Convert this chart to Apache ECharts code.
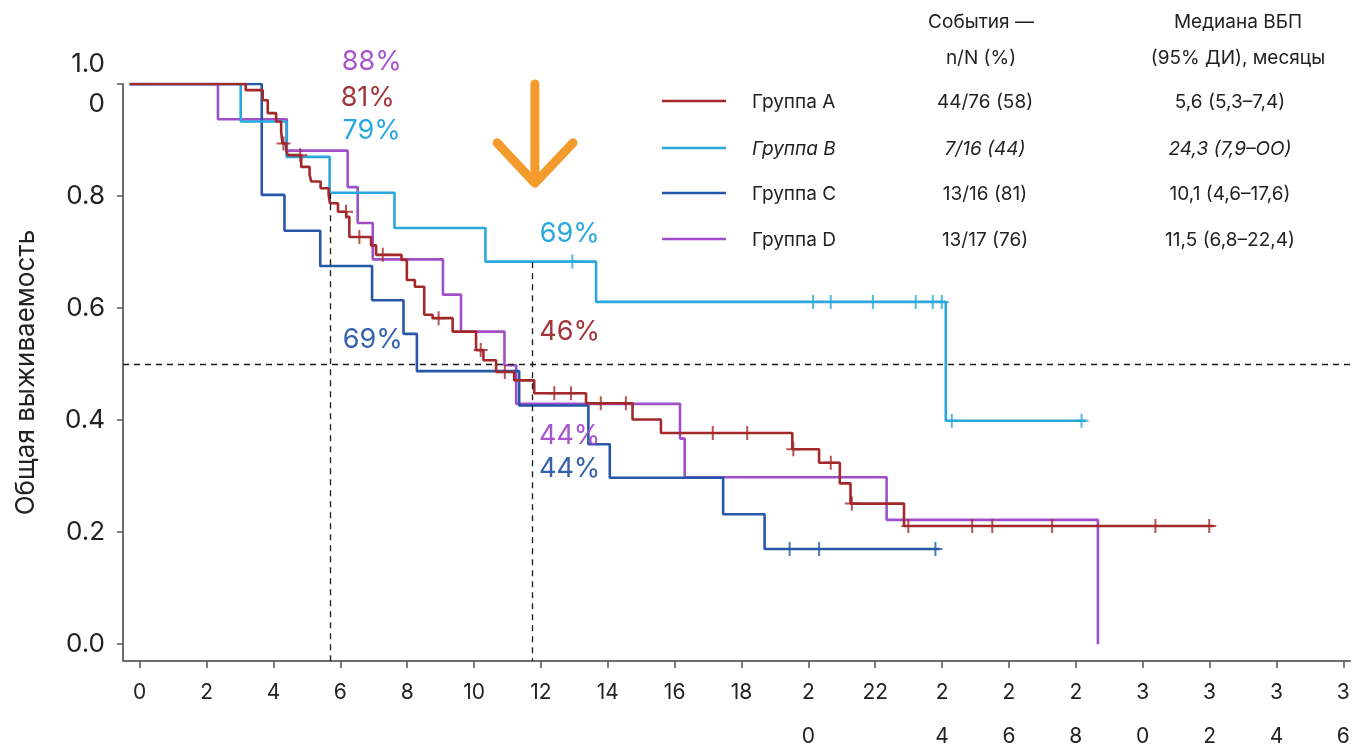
<!DOCTYPE html>
<html>
<head>
<meta charset="utf-8">
<script src="https://cdn.jsdelivr.net/npm/echarts@6/dist/echarts.min.js"></script>
<style>
  html, body { margin: 0; padding: 0; background: #fff; }
  #chart-main { width: 1358px; height: 747px; }
</style>
</head>
<body>
<div id="chart-main"></div>
<script>
// --- data (months, survival fraction) ---
const groupNames = ['Группа A', 'Группа B', 'Группа C', 'Группа D'];
const eventsText = ['44/76 (58)', '7/16 (44)', '13/16 (81)', '13/17 (76)'];
const medianText = ['5,6 (5,3–7,4)', '24,3 (7,9–OO)', '10,1 (4,6–17,6)', '11,5 (6,8–22,4)'];

const aTimes = [-0.3, 3.17, 3.68, 3.83, 4.08, 4.23, 4.27, 4.38, 4.43, 4.83, 5.08, 5.13, 5.41, 5.65, 5.69, 5.93, 6.18, 6.27, 6.92, 7.07, 7.83, 7.99, 8.23, 8.51, 8.76, 9.36, 10.06, 10.28, 10.66, 11.2, 11.8, 13.35, 14.74, 15.59, 19.52, 20.32, 20.94, 21.26, 22.86];
const aSurv = [1.0, 0.989, 0.971, 0.948, 0.933, 0.915, 0.894, 0.882, 0.873, 0.852, 0.838, 0.826, 0.814, 0.802, 0.787, 0.772, 0.763, 0.727, 0.712, 0.695, 0.686, 0.65, 0.638, 0.588, 0.582, 0.558, 0.525, 0.507, 0.486, 0.471, 0.448, 0.43, 0.401, 0.377, 0.348, 0.324, 0.287, 0.251, 0.211];
const aEnd = 32.12;
const aCensor = [4.3, 4.8, 6.17, 6.57, 7.27, 8.94, 10.2, 10.92, 12.4, 12.9, 13.79, 14.54, 17.14, 18.17, 19.55, 20.67, 21.3, 22.99, 24.9, 25.5, 27.29, 30.38, 31.99];

const bTimes = [-0.3, 3.02, 4.39, 5.68, 7.62, 10.34, 13.65, 24.11];
const bSurv = [1.0, 0.933, 0.87, 0.806, 0.743, 0.683, 0.611, 0.399];
const bEnd = 28.3;
const bCensor = [12.94, 20.14, 20.67, 21.93, 23.21, 23.72, 23.99, 24.29, 28.17];

const cTimes = [-0.3, 3.65, 4.33, 5.4, 6.95, 7.89, 8.29, 11.35, 13.42, 14.06, 17.45, 18.69];
const cSurv = [1.0, 0.802, 0.738, 0.675, 0.614, 0.554, 0.4875, 0.426, 0.357, 0.297, 0.232, 0.17];
const cEnd = 23.93;
const cCensor = [19.44, 20.32, 23.8];

const dTimes = [-0.3, 2.34, 4.4, 6.22, 6.52, 6.97, 9.07, 9.61, 10.91, 11.26, 16.16, 16.3, 22.34, 28.66];
const dSurv = [1.0, 0.937, 0.881, 0.816, 0.752, 0.687, 0.624, 0.558, 0.498, 0.429, 0.367, 0.298, 0.222, 0.0];
const dEnd = null;
const dCensor = [];

const xTicks = [0, 2, 4, 6, 8, 10, 12, 14, 16, 18, 20, 22, 24, 26, 28, 30, 32, 34, 36];
const xTickLabels = ['0', '2', '4', '6', '8', '10', '12', '14', '16', '18', '2\n0', '22', '2\n4', '2\n6', '2\n8', '3\n0', '3\n2', '3\n4', '3\n6'];
const yTicks = [0, 0.2, 0.4, 0.6, 0.8, 1.0];
const yTickLabels = ['0.0', '0.2', '0.4', '0.6', '0.8', '1.0\n0'];

// reference lines: median level and the two landmark times
const medianLevel = 0.5;
const landmarkT = [5.71, 11.74];
const landmarkTop = [0.805, 0.682];

// percentage callouts (anchor in months / survival)
const pctText = ['88%', '81%', '79%', '69%', '69%', '46%', '44%', '44%'];
const pctT = [6.94, 6.82, 6.94, 12.86, 6.97, 12.86, 12.86, 12.86];
const pctS = [1.039, 0.975, 0.916, 0.732, 0.543, 0.557, 0.371, 0.3125];
const pctGroup = [3, 0, 1, 1, 2, 0, 3, 2];

// --- styles ---
const palette = ['#a2282a', '#2aa7df', '#2657a8', '#a04fc9'];
const labelPalette = ['#a2353a', '#2aa7df', '#3462ab', '#a854cf'];
const fontFamily = 'Inter, Roboto, "Liberation Sans", sans-serif';
const textColor = '#222';
const plusSymbol = 'path://M6,0 H8 V6 H14 V8 H8 V14 H6 V8 H0 V6 H6 Z';

const chartDom = document.getElementById('chart-main');
const myChart = echarts.init(chartDom);

function stepData(times, surv, end) {
    const pts = times.map((t, i) => [t, surv[i]]);
    if (end != null) pts.push([end, surv[surv.length - 1]]);
    return pts;
}

function survAt(times, surv, t) {
    let s = surv[0];
    for (let i = 0; i < times.length; i++) {
        if (times[i] <= t) s = surv[i];
    }
    return s;
}

const groups = [
    { t: aTimes, s: aSurv, end: aEnd, cens: aCensor },
    { t: bTimes, s: bSurv, end: bEnd, cens: bCensor },
    { t: cTimes, s: cSurv, end: cEnd, cens: cCensor },
    { t: dTimes, s: dSurv, end: dEnd, cens: dCensor }
];

const series = [];
// draw order: purple, blue, cyan, red on top
[3, 2, 1, 0].forEach(gi => {
    const g = groups[gi];
    series.push({
        name: groupNames[gi],
        type: 'line',
        step: 'end',
        data: stepData(g.t, g.s, g.end),
        showSymbol: false,
        silent: true,
        lineStyle: { color: palette[gi], width: 2.6 },
        z: 3
    });
    if (g.cens.length) {
        series.push({
            name: groupNames[gi] + ' censored',
            type: 'scatter',
            data: g.cens.map(c => [c, survAt(g.t, g.s, c)]),
            symbol: plusSymbol,
            symbolSize: 14,
            silent: true,
            itemStyle: { color: palette[gi] },
            z: 4
        });
    }
});

// dashed reference lines
series.push({
    type: 'line',
    data: [],
    silent: true,
    markLine: {
        silent: true,
        symbol: 'none',
        label: { show: false },
        lineStyle: { color: '#1a1a1a', type: [6, 5], width: 1.3 },
        data: [
            [{ coord: [-0.5, medianLevel] }, { coord: [36.2, medianLevel] }],
            [{ coord: [landmarkT[0], landmarkTop[0]] }, { coord: [landmarkT[0], -0.03] }],
            [{ coord: [landmarkT[1], landmarkTop[1]] }, { coord: [landmarkT[1], -0.03] }]
        ]
    }
});

const option = {
    animation: false,
    backgroundColor: '#fff',
    textStyle: { fontFamily: fontFamily },
    grid: { left: 123, right: 8, top: 84, height: 577, outerBoundsMode: 'none', containLabel: false },
    xAxis: {
        type: 'value',
        min: -0.5,
        max: 36.2,
        axisLine: { show: true, onZero: false, lineStyle: { color: '#6e6e6e', width: 2 } },
        axisTick: { show: true, customValues: xTicks, length: 7, lineStyle: { color: '#555', width: 1.5 } },
        axisLabel: {
            customValues: xTicks,
            formatter: v => xTickLabels[Math.round(v / 2)],
            fontSize: 21,
            lineHeight: 44,
            margin: 10,
            color: textColor,
            fontFamily: fontFamily
        },
        splitLine: { show: false }
    },
    yAxis: {
        type: 'value',
        min: -0.03,
        max: 1,
        name: 'Общая выживаемость',
        nameLocation: 'middle',
        nameRotate: 90,
        nameGap: 84,
        nameTextStyle: { fontSize: 26, color: textColor, fontFamily: fontFamily },
        axisLine: { show: true, onZero: false, lineStyle: { color: '#6e6e6e', width: 2 } },
        axisTick: { show: true, customValues: yTicks, length: 6, lineStyle: { color: '#555', width: 1.5 } },
        axisLabel: {
            customValues: yTicks,
            formatter: v => yTickLabels[Math.round(v * 5)],
            fontSize: 26,
            lineHeight: 40,
            margin: 18,
            color: textColor,
            fontFamily: fontFamily
        },
        splitLine: { show: false }
    },
    series: series
};

myChart.setOption(option);

// --- annotations placed through the chart's own coordinate system ---
const px = p => myChart.convertToPixel({ gridIndex: 0 }, p);
const graphics = [];

pctText.forEach((txt, i) => {
    const p = px([pctT[i], pctS[i]]);
    graphics.push({
        type: 'text',
        x: p[0], y: p[1],
        z: 10,
        style: {
            text: txt, fill: labelPalette[pctGroup[i]],
            font: '27px ' + fontFamily,
            align: 'center', verticalAlign: 'middle'
        }
    });
});

// orange arrow at ~12 months
const arrowTop = px([11.82, 1.0]);
const arrowTip = px([11.82, 0.823]);
const armL = px([10.69, 0.895]);
const armR = px([12.96, 0.895]);
const arrowStyle = { stroke: '#f39b2c', lineWidth: 9, lineCap: 'round', lineJoin: 'round', fill: null };
graphics.push({
    type: 'line', z: 10,
    shape: { x1: arrowTop[0], y1: arrowTop[1], x2: arrowTip[0], y2: arrowTip[1] - 2 },
    style: arrowStyle
});
graphics.push({
    type: 'polyline', z: 10,
    shape: { points: [armL, arrowTip, armR] },
    style: arrowStyle
});

// legend table
const headerFont = '19px ' + fontFamily;
[['События —', 981, 22], ['n/N (%)', 981, 58], ['Медиана ВБП', 1238, 22], ['(95% ДИ), месяцы', 1238, 58]].forEach(h => {
    graphics.push({
        type: 'text', x: h[1], y: h[2],
        style: { text: h[0], fill: textColor, font: headerFont, align: 'center', verticalAlign: 'middle' }
    });
});
const rowY = [101, 148, 193, 239];
groupNames.forEach((name, i) => {
    const y = rowY[i];
    const font = (i === 1 ? 'italic ' : '') + '19px ' + fontFamily;
    graphics.push({
        type: 'line',
        shape: { x1: 662, y1: y, x2: 726, y2: y },
        style: { stroke: palette[i], lineWidth: 2.6 }
    });
    graphics.push({
        type: 'text', x: 752, y: y + 1,
        style: { text: name, fill: textColor, font: font, align: 'left', verticalAlign: 'middle' }
    });
    graphics.push({
        type: 'text', x: 985, y: y + 1,
        style: { text: eventsText[i], fill: textColor, font: font, align: 'center', verticalAlign: 'middle' }
    });
    graphics.push({
        type: 'text', x: 1230, y: y + 1,
        style: { text: medianText[i], fill: textColor, font: font, align: 'center', verticalAlign: 'middle' }
    });
});

myChart.setOption({ graphic: graphics });
</script>
</body>
</html>
